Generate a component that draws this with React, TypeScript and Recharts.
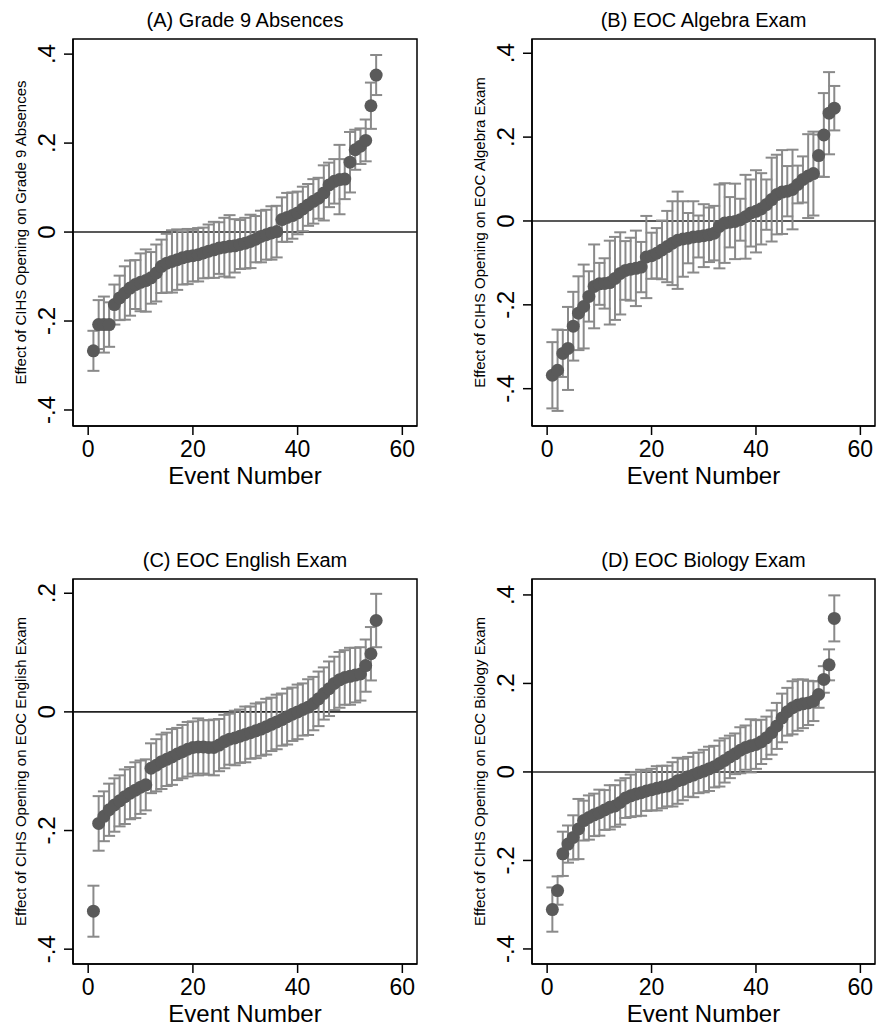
import React from "react"
import {
  ScatterChart,
  Scatter,
  XAxis,
  YAxis,
  ErrorBar,
  ReferenceLine,
  ReferenceArea,
} from "recharts"

// estimates and 95% CI half-widths, events sorted by estimate
const absenceEst = [
  -0.267, -0.208, -0.208, -0.208, -0.163, -0.148, -0.137, -0.126, -0.118, -0.113,
  -0.109, -0.103, -0.092, -0.077, -0.07, -0.066, -0.062, -0.058, -0.055, -0.053,
  -0.051, -0.047, -0.043, -0.04, -0.036, -0.034, -0.032, -0.031, -0.028, -0.025,
  -0.021, -0.016, -0.01, -0.006, -0.002, 0.001, 0.028, 0.033, 0.037, 0.043,
  0.052, 0.061, 0.069, 0.076, 0.088, 0.106, 0.114, 0.118, 0.119, 0.157,
  0.185, 0.193, 0.206, 0.284, 0.353,
]
const absenceCi = [
  0.045, 0.055, 0.063, 0.05, 0.045, 0.05, 0.06, 0.062, 0.055, 0.065,
  0.07, 0.058, 0.064, 0.06, 0.066, 0.07, 0.068, 0.06, 0.062, 0.058,
  0.06, 0.057, 0.06, 0.063, 0.058, 0.066, 0.07, 0.06, 0.055, 0.057,
  0.06, 0.052, 0.058, 0.056, 0.06, 0.058, 0.05, 0.055, 0.052, 0.048,
  0.05, 0.047, 0.05, 0.046, 0.062, 0.05, 0.05, 0.078, 0.045, 0.068,
  0.045, 0.04, 0.047, 0.052, 0.045,
]

const algebraEst = [
  -0.368, -0.356, -0.316, -0.304, -0.251, -0.22, -0.204, -0.18, -0.156, -0.15,
  -0.149, -0.147, -0.137, -0.125, -0.118, -0.115, -0.113, -0.11, -0.086, -0.083,
  -0.077, -0.069, -0.061, -0.053, -0.046, -0.043, -0.041, -0.038, -0.037, -0.035,
  -0.033, -0.029, -0.013, -0.005, -0.003, -0.001, 0.003, 0.01, 0.019, 0.023,
  0.029, 0.039, 0.051, 0.063, 0.069, 0.071, 0.075, 0.087, 0.099, 0.107,
  0.113, 0.156, 0.205, 0.257, 0.269,
]
const algebraCi = [
  0.079, 0.097, 0.056, 0.099, 0.082, 0.088, 0.1, 0.06, 0.1, 0.05,
  0.06, 0.1, 0.099, 0.098, 0.07, 0.075, 0.09, 0.06, 0.098, 0.055,
  0.06, 0.07, 0.085, 0.1, 0.116, 0.09, 0.06, 0.085, 0.05, 0.075,
  0.065, 0.065, 0.1, 0.095, 0.06, 0.09, 0.05, 0.1, 0.08, 0.098,
  0.085, 0.06, 0.1, 0.095, 0.1, 0.06, 0.095, 0.045, 0.055, 0.1,
  0.1, 0.05, 0.1, 0.098, 0.053,
]

const englishEst = [
  -0.336, -0.188, -0.176, -0.165, -0.157, -0.15, -0.143, -0.137, -0.132, -0.127,
  -0.123, -0.095, -0.09, -0.084, -0.08, -0.076, -0.071, -0.067, -0.063, -0.06,
  -0.059, -0.059, -0.06, -0.06, -0.056, -0.05, -0.046, -0.044, -0.041, -0.038,
  -0.035, -0.032, -0.029, -0.025, -0.021, -0.017, -0.013, -0.008, -0.004, 0,
  0.004, 0.008, 0.014, 0.022, 0.031, 0.039, 0.048, 0.054, 0.058, 0.06,
  0.062, 0.064, 0.078, 0.098, 0.154,
]
const englishCi = [
  0.043, 0.046, 0.042, 0.044, 0.045, 0.043, 0.046, 0.044, 0.047, 0.045,
  0.043, 0.042, 0.044, 0.046, 0.045, 0.047, 0.044, 0.045, 0.046, 0.044,
  0.048, 0.045, 0.046, 0.047, 0.044, 0.045, 0.043, 0.046, 0.045, 0.047,
  0.044, 0.046, 0.045, 0.047, 0.045, 0.046, 0.044, 0.047, 0.045, 0.046,
  0.044, 0.047, 0.045, 0.046, 0.044, 0.046, 0.045, 0.047, 0.046, 0.048,
  0.046, 0.045, 0.044, 0.045, 0.045,
]

const biologyEst = [
  -0.311, -0.268, -0.185, -0.163, -0.148, -0.129, -0.11, -0.103, -0.097, -0.092,
  -0.086, -0.08, -0.077, -0.069, -0.059, -0.054, -0.05, -0.047, -0.043, -0.04,
  -0.037, -0.034, -0.032, -0.028, -0.02, -0.017, -0.011, -0.007, -0.002, 0.002,
  0.007, 0.012, 0.019, 0.026, 0.034, 0.041, 0.049, 0.055, 0.059, 0.062,
  0.068, 0.077, 0.089, 0.104, 0.122, 0.136, 0.145, 0.151, 0.154, 0.156,
  0.16, 0.175, 0.209, 0.242, 0.347,
]
const biologyCi = [
  0.05, 0.032, 0.05, 0.042, 0.05, 0.068, 0.045, 0.05, 0.048, 0.052,
  0.045, 0.05, 0.047, 0.05, 0.045, 0.048, 0.05, 0.052, 0.045, 0.047,
  0.05, 0.048, 0.046, 0.05, 0.052, 0.047, 0.045, 0.05, 0.046, 0.048,
  0.05, 0.047, 0.052, 0.05, 0.048, 0.046, 0.052, 0.05, 0.06, 0.055,
  0.05, 0.048, 0.05, 0.052, 0.055, 0.054, 0.06, 0.058, 0.055, 0.05,
  0.045, 0.03, 0.03, 0.035, 0.052,
]

const xTicks = [0, 20, 40, 60]
const yTicksWide = [-0.4, -0.2, 0, 0.2, 0.4]
const yTicksEnglish = [-0.4, -0.2, 0, 0.2]

const FONT = "'Liberation Sans', Arial, Helvetica, sans-serif"
const W = 440
const H = 488
const Y_AXIS_W = 60
const X_AXIS_H = 60
const X_DOMAIN: [number, number] = [-2.9, 62.8]

const fmt = (v: number) => {
  if (v === 0) return "0"
  const s = String(Math.abs(v)).replace(/^0/, "")
  return v < 0 ? "-" + s : s
}

const Dot = (props: any) => (
  <circle cx={props.cx} cy={props.cy} r={6.5} fill="#5a5a5a" />
)

type PanelProps = {
  left: number
  top: number
  title: string
  yLabel: string
  est: number[]
  ci: number[]
  yDomain: [number, number]
  yTicks: number[]
  mLeft: number
  mRight: number
  plotH: number
}

function Panel({ left, top, title, yLabel, est, ci, yDomain, yTicks, mLeft, mRight, plotH }: PanelProps) {
  const data = est.map((v, i) => ({ event: i + 1, est: v, ci: ci[i] }))
  const mTop = 39
  const mBottom = H - mTop - plotH - X_AXIS_H
  const plotLeft = mLeft + Y_AXIS_W
  const plotRight = W - mRight
  const plotTop = mTop
  const plotBottom = mTop + plotH
  const cx = (plotLeft + plotRight) / 2
  const cy = (plotTop + plotBottom) / 2

  return (
    <div style={{ position: "absolute", left, top }}>
      <ScatterChart
        width={W}
        height={H}
        margin={{ top: mTop, right: mRight, bottom: mBottom, left: mLeft }}
      >
        <XAxis
          type="number"
          dataKey="event"
          domain={X_DOMAIN}
          ticks={xTicks}
          allowDataOverflow
          height={X_AXIS_H}
          tickSize={9}
          tickMargin={6}
          axisLine={{ stroke: "#000", strokeWidth: 1.5 }}
          tickLine={{ stroke: "#000", strokeWidth: 1.5 }}
          tick={{ fill: "#000", fontSize: 23, fontFamily: FONT }}
          label={() => (
            <text x={cx} y={plotBottom + 58} textAnchor="middle" fontSize={24} fontFamily={FONT} fill="#000">
              Event Number
            </text>
          )}
        />
        <YAxis
          type="number"
          dataKey="est"
          domain={yDomain}
          ticks={yTicks}
          allowDataOverflow
          width={Y_AXIS_W}
          tickSize={9}
          axisLine={{ stroke: "#000", strokeWidth: 1.5 }}
          tickLine={{ stroke: "#000", strokeWidth: 1.5 }}
          tick={(p: any) => (
            <text
              transform={`translate(${plotLeft - 18},${p.y}) rotate(-90)`}
              textAnchor="middle"
              fontSize={24}
              fontFamily={FONT}
              fill="#000"
            >
              {fmt(p.payload.value)}
            </text>
          )}
          label={() => (
            <text
              transform={`translate(${plotLeft - 47},${cy}) rotate(-90)`}
              textAnchor="middle"
              fontSize={15}
              fontFamily={FONT}
              fill="#000"
            >
              {yLabel}
            </text>
          )}
        />
        <ReferenceLine y={0} stroke="#222" strokeWidth={1.6} />
        <Scatter data={data} dataKey="est" shape={Dot} isAnimationActive={false} />
        <Scatter data={data} dataKey="est" shape={() => <g />} isAnimationActive={false}>
          <ErrorBar dataKey="ci" direction="y" width={6} stroke="#8a8a8a" strokeWidth={2} />
        </Scatter>
        <ReferenceArea
          x1={X_DOMAIN[0]}
          x2={X_DOMAIN[1]}
          y1={yDomain[0]}
          y2={yDomain[1]}
          fill="none"
          fillOpacity={0}
          stroke="#000"
          strokeWidth={1.5}
          ifOverflow="visible"
          label={() => (
            <text x={cx} y={plotTop - 12} textAnchor="middle" fontSize={20} fontFamily={FONT} fill="#000">
              {title}
            </text>
          )}
        />
      </ScatterChart>
    </div>
  )
}

export default function App() {
  return (
    <div
      style={{
        position: "absolute",
        left: 0,
        top: 0,
        width: 880,
        height: 1028,
        background: "#fff",
      }}
    >
      <Panel
        left={0}
        top={0}
        title="(A) Grade 9 Absences"
        yLabel="Effect of CIHS Opening on Grade 9 Absences"
        est={absenceEst}
        ci={absenceCi}
        yDomain={[-0.436, 0.434]}
        yTicks={yTicksWide}
        mLeft={13}
        mRight={23}
        plotH={387}
      />
      <Panel
        left={440}
        top={0}
        title="(B) EOC Algebra Exam"
        yLabel="Effect of CIHS Opening on EOC Algebra Exam"
        est={algebraEst}
        ci={algebraCi}
        yDomain={[-0.489, 0.434]}
        yTicks={yTicksWide}
        mLeft={32}
        mRight={5}
        plotH={387}
      />
      <Panel
        left={0}
        top={540}
        title="(C) EOC English Exam"
        yLabel="Effect of CIHS Opening on EOC English Exam"
        est={englishEst}
        ci={englishCi}
        yDomain={[-0.425, 0.224]}
        yTicks={yTicksEnglish}
        mLeft={13}
        mRight={23}
        plotH={385}
      />
      <Panel
        left={440}
        top={540}
        title="(D) EOC Biology Exam"
        yLabel="Effect of CIHS Opening on EOC Biology Exam"
        est={biologyEst}
        ci={biologyCi}
        yDomain={[-0.434, 0.436]}
        yTicks={yTicksWide}
        mLeft={32}
        mRight={5}
        plotH={385}
      />
    </div>
  )
}
